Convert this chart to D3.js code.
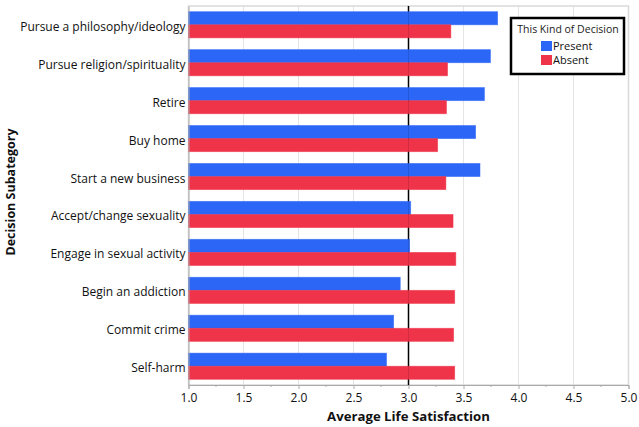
<!DOCTYPE html>
<html>
<head>
<meta charset="utf-8">
<script src="https://cdn.jsdelivr.net/npm/d3@7"></script>
<style>
  body { margin: 0; background: #fff; }
  text { font-family: "Open Sans", "Noto Sans", sans-serif; fill: #111; }
</style>
</head>
<body>
<svg id="chart" width="639" height="427"></svg>
<script>
// data
const categories = [
  "Pursue a philosophy/ideology",
  "Pursue religion/spirituality",
  "Retire",
  "Buy home",
  "Start a new business",
  "Accept/change sexuality",
  "Engage in sexual activity",
  "Begin an addiction",
  "Commit crime",
  "Self-harm"
];
const present = [3.81, 3.745, 3.69, 3.61, 3.65, 3.02, 3.01, 2.925, 2.865, 2.80];
const absent  = [3.385, 3.355, 3.345, 3.265, 3.34, 3.405, 3.43, 3.42, 3.41, 3.42];
const seriesNames = ["Present", "Absent"];
const colors = ["#2b66f6", "#ef3349"];
const xTicks = [1.0, 1.5, 2.0, 2.5, 3.0, 3.5, 4.0, 4.5, 5.0];

const svg = d3.select("#chart");
const plotL = 188.5, plotR = 628.5, plotT = 6, plotB = 385;

const x = d3.scaleLinear().domain([1, 5]).range([plotL, plotR]);
const y = d3.scaleBand().domain(categories).range([plotT, plotB])
  .paddingInner(0.31).paddingOuter(0.15);
const ySub = d3.scaleBand().domain(seriesNames).range([0, y.bandwidth()]);

// grid
svg.append("g").selectAll("line")
  .data(xTicks.slice(1, -1))
  .join("line")
  .attr("x1", d => x(d)).attr("x2", d => x(d))
  .attr("y1", plotT).attr("y2", plotB)
  .attr("stroke", "#e4e4e4");

// frame
svg.append("rect")
  .attr("x", plotL).attr("y", plotT)
  .attr("width", plotR - plotL).attr("height", plotB - plotT)
  .attr("fill", "none").attr("stroke", "#d9d9d9").attr("stroke-width", 1.5);

// reference line at 3.0 (behind the bars)
svg.append("line")
  .attr("x1", x(3)).attr("x2", x(3))
  .attr("y1", plotT).attr("y2", plotB)
  .attr("stroke", "#000").attr("stroke-width", 1.5);

// bars
const rows = categories.map((c, i) => ({ cat: c, vals: [present[i], absent[i]] }));
const g = svg.append("g").selectAll("g")
  .data(rows)
  .join("g")
  .attr("transform", d => `translate(0,${y(d.cat)})`);

g.selectAll("rect")
  .data(d => d.vals.map((v, j) => ({ v, s: seriesNames[j], c: colors[j] })))
  .join("rect")
  .attr("x", x(1))
  .attr("y", d => ySub(d.s))
  .attr("width", d => x(d.v) - x(1))
  .attr("height", ySub.bandwidth())
  .attr("fill", d => d.c)
  .attr("stroke", d => d.c)
  .attr("stroke-opacity", 0.6)
  .attr("stroke-width", 0.8);

// very faint copy of the reference line showing through the bars
svg.append("line")
  .attr("x1", x(3)).attr("x2", x(3))
  .attr("y1", plotT).attr("y2", plotB)
  .attr("stroke", "#000").attr("stroke-width", 1).attr("stroke-opacity", 0.12);

// x axis
const xAxis = svg.append("g")
  .attr("transform", `translate(0,${plotB})`)
  .call(d3.axisBottom(x).tickValues(xTicks).tickFormat(d3.format(".1f")).tickSize(4).tickPadding(4));
xAxis.select(".domain").attr("stroke", "#aaa");
xAxis.selectAll(".tick line").attr("stroke", "#aaa");
xAxis.selectAll("text").style("font-size", "12px").style("fill", "#111");
svg.append("g").selectAll("line")
  .data(d3.range(1.25, 5, 0.5))
  .join("line")
  .attr("x1", d => x(d)).attr("x2", d => x(d))
  .attr("y1", plotB).attr("y2", plotB + 2)
  .attr("stroke", "#aaa");

// y axis
const yAxis = svg.append("g")
  .attr("transform", `translate(${plotL},0)`)
  .call(d3.axisLeft(y).tickSize(0).tickPadding(3));
yAxis.select(".domain").attr("stroke", "#aaa");
yAxis.selectAll("text").style("font-size", "12px").style("fill", "#111").attr("dy", "0.5em");

// axis titles
svg.append("text")
  .attr("x", x(3)).attr("y", 421)
  .attr("text-anchor", "middle")
  .style("font-size", "13.2px").style("font-weight", "bold")
  .text("Average Life Satisfaction");
svg.append("text")
  .attr("transform", `translate(15,192) rotate(-90)`)
  .attr("text-anchor", "middle")
  .style("font-size", "12.5px").style("font-weight", "bold")
  .text("Decision Subategory");

// legend
const lg = svg.append("g").attr("transform", "translate(511,18)");
lg.append("rect")
  .attr("width", 113).attr("height", 56)
  .attr("fill", "#fff").attr("stroke", "#000").attr("stroke-width", 2.5);
lg.append("text")
  .attr("x", 57).attr("y", 15)
  .attr("text-anchor", "middle")
  .style("font-size", "10.5px").style("fill", "#222")
  .text("This Kind of Decision");
seriesNames.forEach((s, i) => {
  lg.append("rect")
    .attr("x", 30).attr("y", 23 + i * 14)
    .attr("width", 11).attr("height", 10)
    .attr("fill", colors[i]);
  lg.append("text")
    .attr("x", 42).attr("y", 32 + i * 14)
    .style("font-size", "11px")
    .text(s);
});
</script>
</body>
</html>
